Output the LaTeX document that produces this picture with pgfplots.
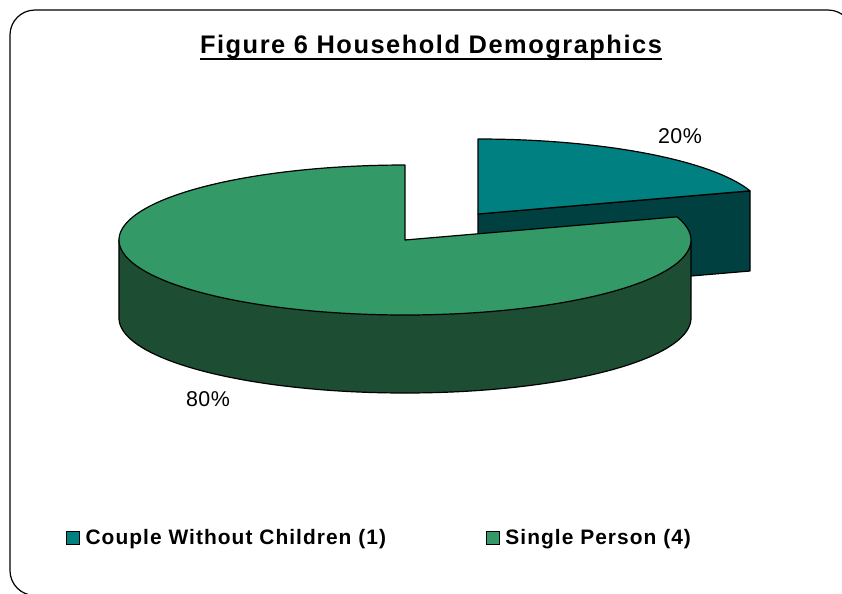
\documentclass[border=0pt]{standalone}
\usepackage{fontspec}
\setmainfont{Liberation Sans}
\usepackage{pgfplots}
\pgfplotsset{compat=1.18}
\usepackage{pgfplotstable}
\definecolor{cAtop}{RGB}{0,128,128}
\definecolor{cAside}{RGB}{0,64,64}
\definecolor{cBtop}{RGB}{51,153,102}
\definecolor{cBside}{RGB}{29,77,51}
\pgfplotsset{sqleg/.style={legend image code/.code={\draw[##1] (0bp,-6.5bp) rectangle (13bp,6.5bp); \path[draw=none,fill=none] (0bp,0bp) -- (17bp,0bp);}}}
\pgfplotstableread{
label value
Couple 1
Single 4
}\datatable
\pgfplotstablegetelem{0}{value}\of\datatable \let\va\pgfplotsretval
\pgfplotstablegetelem{1}{value}\of\datatable \let\vb\pgfplotsretval
\pgfmathsetmacro\angA{360*\va/(\va+\vb)}
\pgfmathsetmacro\startA{90-\angA}
\pgfmathsetmacro\endB{360+\startA}
\begin{document}
\begin{tikzpicture}
\useasboundingbox (-421bp,-297bp) rectangle (421bp,297bp);
\begin{axis}[name=ax, at={(0,0)}, anchor=center, width=842bp, height=594bp, scale only axis,
  xmin=0, xmax=842, ymin=0, ymax=594, y dir=reverse, hide axis, clip=false,
  legend columns=2,
  legend style={at={(axis cs:63,538)}, anchor=west, draw=none, fill=none,
    font=\fontsize{21}{24}\selectfont\bfseries\addfontfeature{LetterSpace=5},
    /tikz/every even column/.append style={column sep=98bp}},
  legend cell align=left]
% slice A (20%), exploded: cut face then top
\addplot[forget plot, fill=cAside, draw=black, line width=1.2bp, line join=round]
  coordinates {(478,214) (750,191) (750,271) (478,294)} -- cycle;
\addplot[forget plot, fill=cAtop, draw=black, line width=1.2bp, line join=round,
  domain=\startA:90, samples=80]
  ({478+286*cos(x)}, {214-75*sin(x)}) -- (axis cs:478,214) -- cycle;
% slice B (80%): outer wall then top
\addplot[forget plot, fill=cBside, draw=black, line width=1.2bp, line join=round,
  domain=180:360, samples=120]
  ({405+286*cos(x)}, {318-75*sin(x)}) -- (axis cs:691,240) -- (axis cs:119,240) -- cycle;
\addplot[forget plot, fill=cBtop, draw=black, line width=1.2bp, line join=round,
  domain=90:\endB, samples=160]
  ({405+286*cos(x)}, {240-75*sin(x)}) -- (axis cs:405,240) -- cycle;
% legend
\addlegendimage{sqleg, fill=cAtop, draw=black, line width=0.8bp}
\addlegendentry{Couple Without Children (1)}
\addlegendimage{sqleg, fill=cBtop, draw=black, line width=0.8bp}
\addlegendentry{Single Person (4)}
% labels
\node[anchor=base, inner sep=0, font=\fontsize{21.5}{24}\selectfont\addfontfeature{LetterSpace=2}] at (axis cs:680,143) {20\%};
\node[anchor=base, inner sep=0, font=\fontsize{21.5}{24}\selectfont\addfontfeature{LetterSpace=2}] at (axis cs:208,406) {80\%};
\node[name=title, anchor=base, inner sep=0, font=\fontsize{25.5}{28}\selectfont\bfseries\addfontfeature{LetterSpace=6}] at (axis cs:431,53) {Figure 6 Household Demographics};
\draw[line width=2bp] ([yshift=-5.5bp]title.base west) -- ([yshift=-5.5bp]title.base east);
% frame (only the parts that fall inside the picture)
\begin{scope}
\clip (axis cs:0,0) rectangle (axis cs:842,594);
\draw[line width=1.2bp, rounded corners=25bp] (axis cs:120,595.5) -- (axis cs:10,595.5) -- (axis cs:10,10) -- (axis cs:853,10) -- (axis cs:853,40);
\end{scope}
\end{axis}
\end{tikzpicture}
\end{document}
